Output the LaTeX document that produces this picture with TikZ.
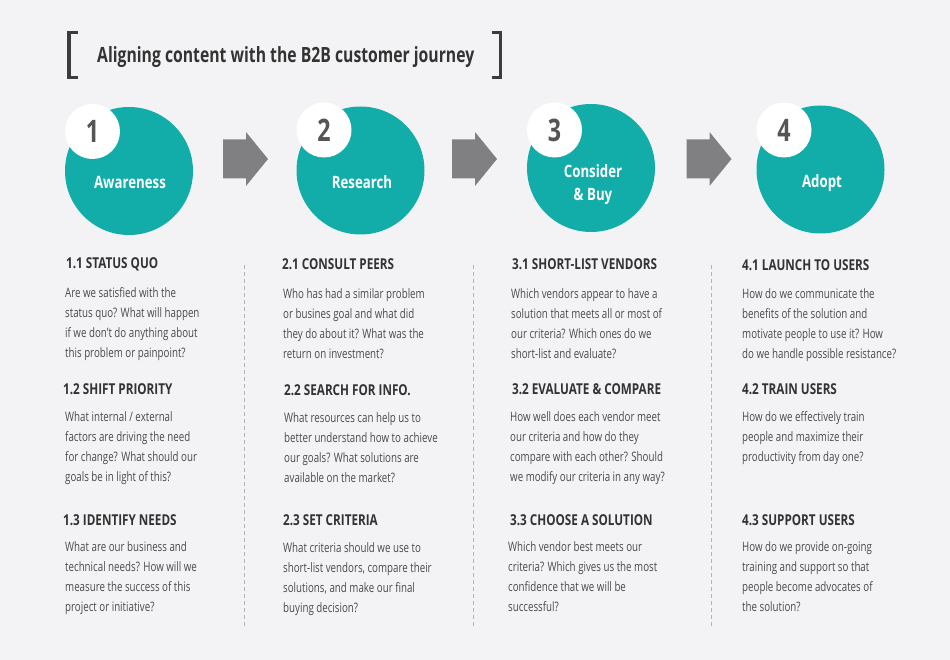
\documentclass[tikz,border=0pt]{standalone}
\usepackage{fontspec}
\setmainfont{Open Sans}[FakeStretch=0.75]
\newfontfamily\headfont{Open Sans}[FakeStretch=0.78]
\definecolor{bg}{HTML}{F3F3F5}
\definecolor{jteal}{HTML}{13ADA9}
\definecolor{arrowgray}{HTML}{808083}
\definecolor{numgray}{HTML}{555558}
\definecolor{headc}{HTML}{333333}
\definecolor{bodyc}{HTML}{4A4A4A}
\definecolor{dashc}{HTML}{B4B4B8}
\definecolor{brackc}{HTML}{3C3C3E}
\tikzset{
  stage/.style={circle, fill=jteal, minimum size=128pt, inner sep=0pt},
  badge/.style={circle, fill=white, minimum size=55pt, inner sep=0pt},
  num/.style={inner sep=0pt, font=\fontsize{31}{31}\selectfont\bfseries, text=numgray},
  stagelabel/.style={anchor=base, inner sep=0pt, align=center, font=\headfont\fontsize{17}{23}\selectfont\bfseries, text=white},
  head/.style={anchor=base west, inner sep=0pt, font=\headfont\fontsize{15}{18}\selectfont\bfseries, text=headc},
  body/.style={anchor=base west, inner sep=0pt, align=left, font=\fontsize{13}{20}\selectfont, text=bodyc},
  sep/.style={draw=dashc, line width=0.8pt, dash pattern=on 4pt off 3pt},
  brack/.style={draw=brackc, line width=3.5pt},
  blockarrow/.pic={\fill[arrowgray] (-22.5,-19.5) -- (0.5,-19.5) -- (0.5,-27) -- (22.5,0) -- (0.5,27) -- (0.5,19.5) -- (-22.5,19.5) -- cycle;}
}
\begin{document}
\begin{tikzpicture}[x=1pt,y=-1pt]
\fill[bg] (0,0) rectangle (950,660);
\useasboundingbox (0,0) rectangle (950,660);

% title
\draw[brack] (78,32.5) -- (69,32.5) -- (69,77.5) -- (78,77.5);
\draw[brack] (492,32.5) -- (500.5,32.5) -- (500.5,77.5) -- (492,77.5);
\node[anchor=base west, inner sep=0pt, font=\fontsize{21}{24}\selectfont\bfseries, text=headc] (title) at (97,63) {Aligning content with the B2B customer journey};

% stages
\node[stage] (s1) at (129,171) {};
\node[stage] (s2) at (360.5,170.5) {};
\node[stage] (s3) at (591,168) {};
\node[stage] (s4) at (820.5,169.5) {};
\node[badge] (b1) at (92.5,131.5) {};
\node[badge] (b2) at (324,130) {};
\node[badge] (b3) at (554.5,130) {};
\node[badge] (b4) at (784,130) {};
\node[num] (n1) at (b1) {1};
\node[num] (n2) at (b2) {2};
\node[num] (n3) at (b3) {3};
\node[num] (n4) at (b4) {4};
\node[stagelabel] (l1) at (130,189) {Awareness};
\node[stagelabel] (l2) at (362,189) {Research};
\node[stagelabel] (l3) at (593,201) {Consider\\\& Buy};
\node[stagelabel] (l4) at (822,188) {Adopt};

% arrows
\pic at (245.5,159) {blockarrow};
\pic at (474.5,159) {blockarrow};
\pic at (709,159) {blockarrow};

% separators
\coordinate (d1a) at (244,265); \coordinate (d1b) at (244,627);
\coordinate (d2a) at (473,265); \coordinate (d2b) at (473,627);
\coordinate (d3a) at (711,265); \coordinate (d3b) at (711,627);
\draw[sep] (d1a) -- (d1b);
\draw[sep] (d2a) -- (d2b);
\draw[sep] (d3a) -- (d3b);

% column 1 (body nodes are placed by the baseline of their last line)
\node[head] (h11) at (66,269) {1.1 STATUS QUO};
\node[body] (t11) at (65,357) {Are we satisfied with the\\status quo? What will happen\\if we don’t do anything about\\this problem or painpoint?};
\node[head] (h12) at (63,394) {1.2 SHIFT PRIORITY};
\node[body] (t12) at (65,481) {What internal / external\\factors are driving the need\\for change? What should our\\goals be in light of this?};
\node[head] (h13) at (63,525) {1.3 IDENTIFY NEEDS};
\node[body] (t13) at (65,611) {What are our business and\\technical needs? How will we\\measure the success of this\\project or initiative?};

% column 2
\node[head] (h21) at (282,270) {2.1 CONSULT PEERS};
\node[body] (t21) at (283,358) {Who has had a similar problem\\or busines goal and what did\\they do about it? What was the\\return on investment?};
\node[head] (h22) at (284,395) {2.2 SEARCH FOR INFO.};
\node[body] (t22) at (284,482) {What resources can help us to\\better understand how to achieve\\our goals? What solutions are\\available on the market?};
\node[head] (h23) at (283,525) {2.3 SET CRITERIA};
\node[body] (t23) at (283,612) {What criteria should we use to\\short-list vendors, compare their\\solutions, and make our final\\buying decision?};

% column 3
\node[head] (h31) at (512,269.5) {3.1 SHORT-LIST VENDORS};
\node[body] (t31) at (511,358) {Which vendors appear to have a\\solution that meets all or most of\\our criteria? Which ones do we\\short-list and evaluate?};
\node[head] (h32) at (512,394.5) {3.2 EVALUATE \& COMPARE};
\node[body] (t32) at (510,481) {How well does each vendor meet\\our criteria and how do they\\compare with each other? Should\\we modify our criteria in any way?};
\node[head] (h33) at (510,525) {3.3 CHOOSE A SOLUTION};
\node[body] (t33) at (508,611) {Which vendor best meets our\\criteria? Which gives us the most\\confidence that we will be\\successful?};

% column 4
\node[head] (h41) at (742,271) {4.1 LAUNCH TO USERS};
\node[body] (t41) at (742,358) {How do we communicate the\\benefits of the solution and\\motivate people to use it? How\\do we handle possible resistance?};
\node[head] (h42) at (742,394.5) {4.2 TRAIN USERS};
\node[body] (t42) at (742,461) {How do we effectively train\\people and maximize their\\productivity from day one?};
\node[head] (h43) at (742,525) {4.3 SUPPORT USERS};
\node[body] (t43) at (742,611) {How do we provide on-going\\training and support so that\\people become advocates of\\the solution?};
\end{tikzpicture}
\end{document}
